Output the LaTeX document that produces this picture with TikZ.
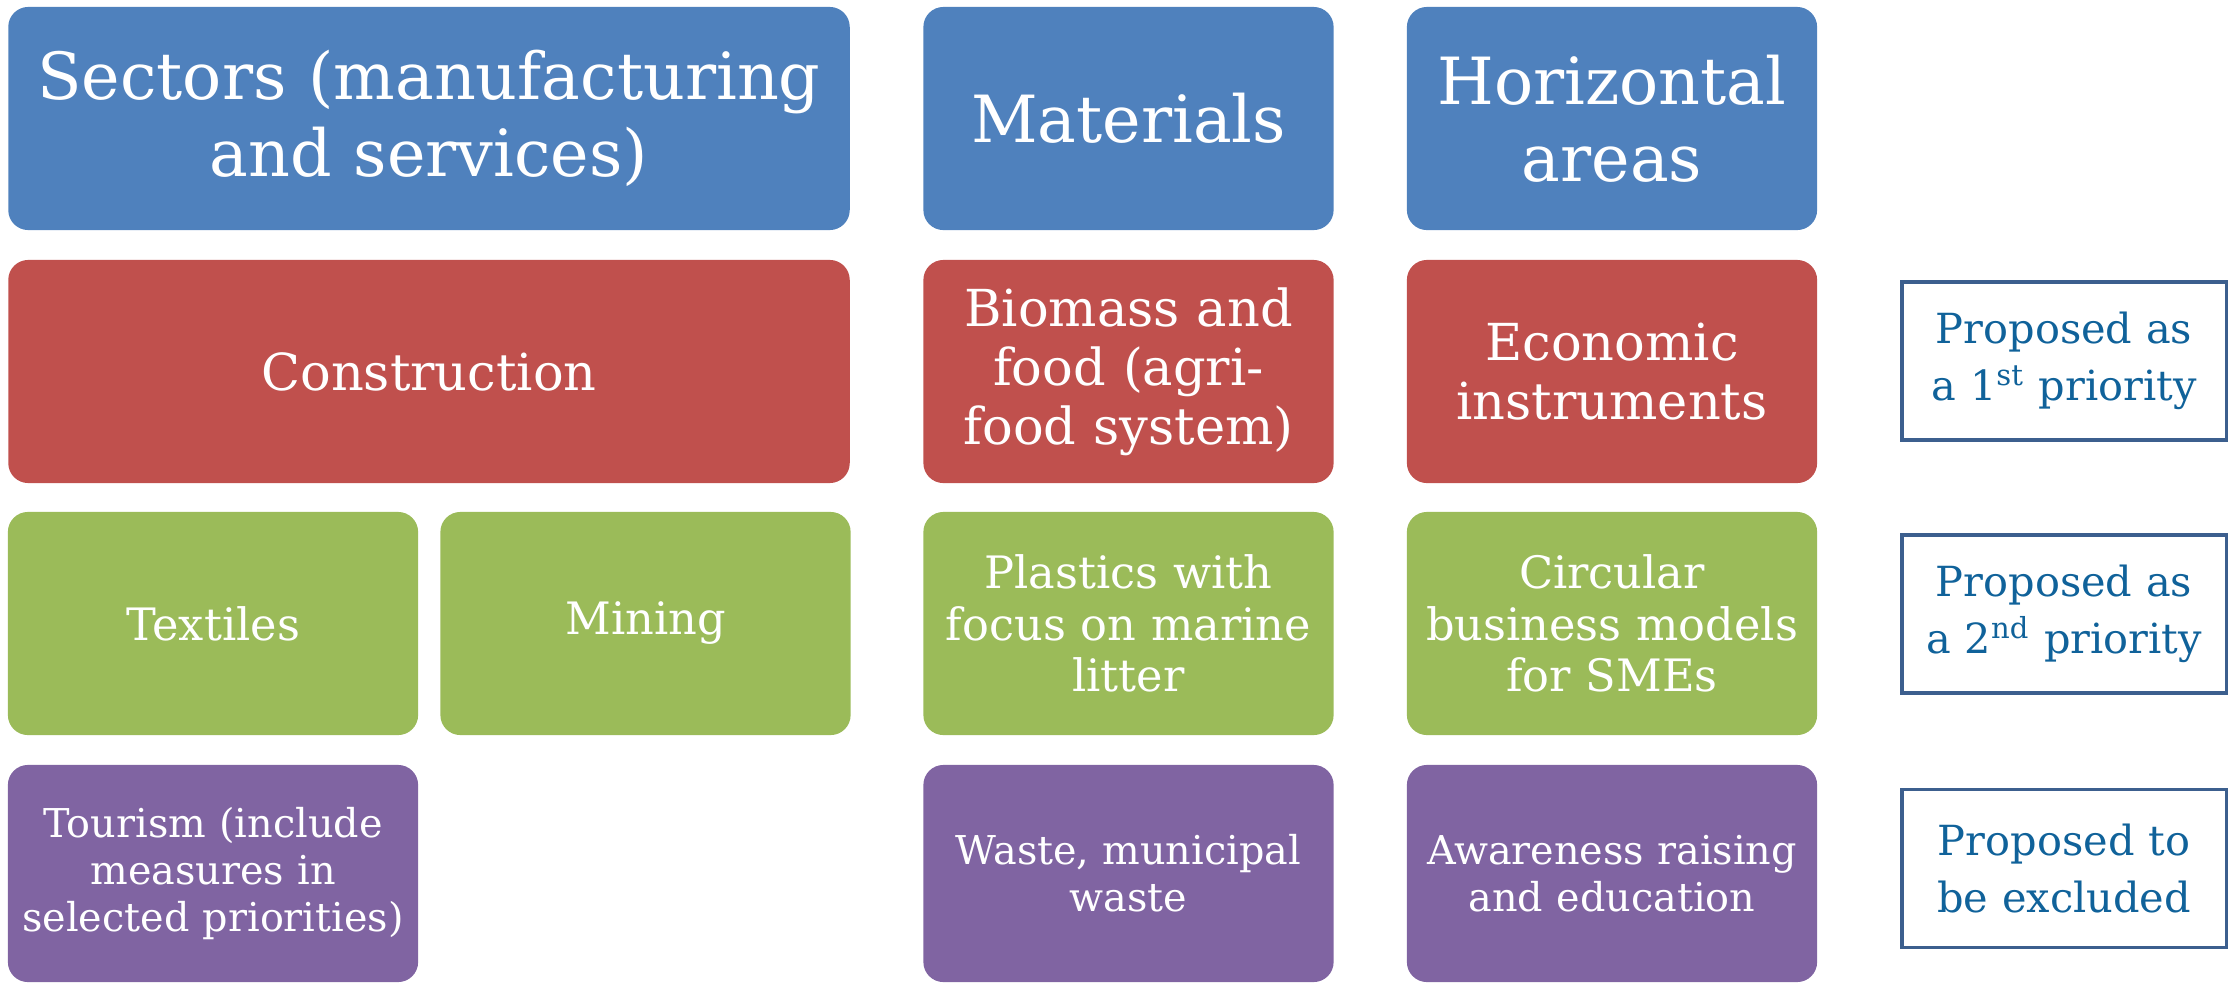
\documentclass[tikz,border=0pt]{standalone}
\usepackage{fontspec}
\setmainfont{DejaVu Serif}
\definecolor{hdrblue}{HTML}{4F81BD}
\definecolor{prired}{HTML}{C0504D}
\definecolor{secgreen}{HTML}{9BBB59}
\definecolor{exclpurple}{HTML}{8064A2}
\definecolor{keyframe}{HTML}{3C5F8E}
\definecolor{keytext}{HTML}{10629A}
\begin{document}
\begin{tikzpicture}[x=0.01cm,y=-0.01cm,
  tile/.style={rounded corners=0.2cm,inner sep=0pt,align=center,text=white,
    minimum height=2.23cm},
  header/.style={tile,fill=hdrblue,font=\fontsize{18.5}{22}\selectfont},
  first/.style={tile,fill=prired,font=\fontsize{14.5}{16.8}\selectfont},
  second/.style={tile,fill=secgreen,font=\fontsize{12.7}{14.6}\selectfont},
  excluded/.style={tile,fill=exclpurple,minimum height=2.17cm,
    font=\fontsize{11.3}{13.3}\selectfont},
  wide/.style={minimum width=8.41cm,text width=8.41cm},
  narrow/.style={minimum width=4.1cm,text width=4.1cm},
  keybox/.style={draw=keyframe,line width=0.9pt,inner sep=0pt,align=center,
    text=keytext,minimum width=3.24cm,text width=3.24cm,minimum height=1.58cm,
    font=\fontsize{11.8}{16.2}\selectfont}]
\useasboundingbox (0,0) rectangle (2229,984);
% headers
\node[header,wide] (sectors) at (429,118.5) {Sectors (manufacturing\\and services)};
\node[header,narrow] (materials) at (1128.5,118.5) {Materials};
\node[header,narrow] (horizontal) at (1612,118.5) {Horizontal\\areas};
% 1st priority
\node[first,wide] (construction) at (429,371.5) {Construction};
\node[first,narrow] (biomass) at (1128.5,371.5) {Biomass and\\food (agri-\\food system)};
\node[first,narrow] (economic) at (1612,371.5) {Economic\\instruments};
% 2nd priority
\node[second,narrow] (textiles) at (213,623.5) {Textiles};
\node[second,narrow] (mining) at (645.5,623.5) {Mining};
\node[second,narrow] (plastics) at (1128.5,623.5) {Plastics with\\focus on marine\\litter};
\node[second,narrow] (circular) at (1612,623.5) {Circular\\business models\\for SMEs};
% excluded
\node[excluded,narrow] (tourism) at (213,873.5) {Tourism (include\\measures in\\selected priorities)};
\node[excluded,narrow] (waste) at (1128.5,873.5) {Waste, municipal\\waste};
\node[excluded,narrow] (awareness) at (1612,873.5) {Awareness raising\\and education};
% legend
\node[keybox] (keyfirst) at (2064,361) {Proposed as\\a 1\textsuperscript{st} priority};
\node[keybox] (keysecond) at (2064,614) {Proposed as\\a 2\textsuperscript{nd} priority};
\node[keybox] (keyexcl) at (2064,868.5) {Proposed to\\be excluded};
\end{tikzpicture}
\end{document}
